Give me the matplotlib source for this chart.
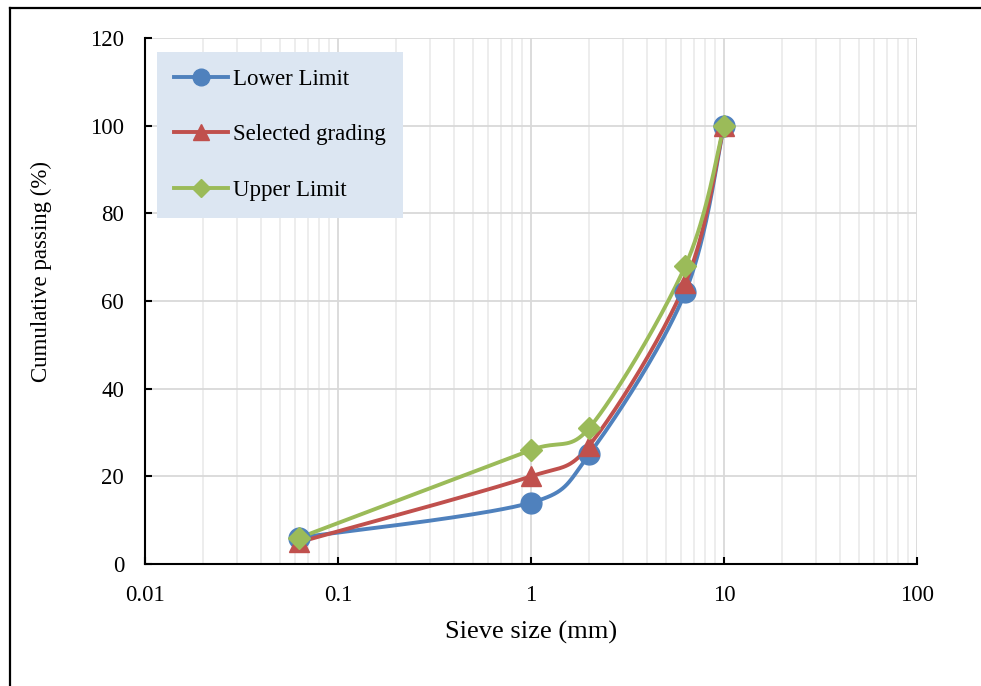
import numpy as np
import matplotlib
matplotlib.use("Agg")
from matplotlib import pyplot as plt
from matplotlib.lines import Line2D
from matplotlib.ticker import LogLocator, FixedLocator, NullFormatter, FuncFormatter

sieve = [0.063, 1, 2, 6.3, 10]
lower = [6, 14, 25, 62, 100]
selected = [5, 20, 27, 64, 100]
upper = [6, 26, 31, 68, 100]

labels = ['Lower Limit', 'Selected grading', 'Upper Limit']
colors = ['#4f81bd', '#c0504d', '#9bbb59']
markers = ['o', '^', 'D']

plt.rcParams['font.family'] = ['Liberation Serif', 'DejaVu Serif']
plt.rcParams['font.size'] = 16.5

fig = plt.figure(figsize=(9.81, 6.86), dpi=100)
ax = fig.add_axes([145/981, 1-564/686, (917-145)/981, (564-38)/686])

ax.set_xscale('log')
ax.set_xlim(0.01, 100)
ax.set_ylim(0, 120)


def smooth(ax, xs, ys, n=40):
    # smoothed line like the spreadsheet one: bezier through the points,
    # handles limited to half the segment length, worked out in pixels
    pts = ax.transData.transform(np.column_stack([xs, ys]))
    p = np.vstack([pts[0], pts, pts[-1]])
    out = []
    t = np.linspace(0, 1, n)[:, None]
    for i in range(1, len(p) - 2):
        p0, p1, p2, p3 = p[i-1], p[i], p[i+1], p[i+2]
        half = np.hypot(*(p2 - p1)) / 2
        v1 = (p2 - p0) / 6
        v2 = (p3 - p1) / 6
        if np.hypot(*v1) > half:
            v1 = v1 * half / np.hypot(*v1)
        if np.hypot(*v2) > half:
            v2 = v2 * half / np.hypot(*v2)
        c1 = p1 + v1
        c2 = p2 - v2
        seg = ((1-t)**3)*p1 + 3*((1-t)**2)*t*c1 + 3*(1-t)*(t**2)*c2 + (t**3)*p2
        out.append(seg)
    out = np.vstack(out)
    return ax.transData.inverted().transform(out)


for ys, lab, c, m in zip([lower, selected, upper], labels, colors, markers):
    curve = smooth(ax, sieve, ys)
    ax.plot(curve[:, 0], curve[:, 1], color=c, lw=2.8, zorder=3,
            solid_capstyle='round')
    ms = 11 if m == 'D' else 15
    ax.plot(sieve, ys, linestyle='none', marker=m, ms=ms, color=c, zorder=4)
    ax.plot([], [], color=c, lw=2.8, marker=m, ms=ms*0.8, label=lab)

ax.xaxis.set_major_locator(FixedLocator([0.01, 0.1, 1, 10, 100]))
ax.xaxis.set_minor_locator(LogLocator(base=10, subs=np.arange(2, 10)))
ax.xaxis.set_minor_formatter(NullFormatter())
ax.xaxis.set_major_formatter(FuncFormatter(lambda v, pos: ('%g' % v)))
ax.set_yticks([0, 20, 40, 60, 80, 100, 120])

ax.grid(which='major', color='#d9d9d9', lw=1.3, zorder=0)
ax.grid(which='minor', axis='x', color='#ececec', lw=1.3, zorder=0)
ax.set_axisbelow(True)

ax.spines['top'].set_color('none')
ax.spines['right'].set_color('none')
ax.spines['left'].set_linewidth(1.5)
ax.spines['bottom'].set_linewidth(1.5)
ax.tick_params(which='major', direction='in', length=5, width=1.5, pad=15)
ax.tick_params(axis='x', which='major', pad=15)
ax.tick_params(which='minor', length=0)

fig.text(41/981, 1-271/686, 'Cumulative passing (%)', rotation=90,
         ha='center', va='center', fontsize=16.5)
fig.text(531/981, 1-632/686, 'Sieve size (mm)', ha='center', va='center',
         fontsize=19)

leg = ax.legend(loc='upper left', bbox_to_anchor=(12/772, 1-13.5/526),
                frameon=True, fancybox=False, facecolor='#dce6f2',
                edgecolor='none', framealpha=1, labelspacing=1.5,
                handlelength=2.35, handletextpad=0.2, borderpad=0.75,
                borderaxespad=0, fontsize=16.5)

# outer frame
fig.add_artist(Line2D([10/981, 1], [1-8/686, 1-8/686], color='black', lw=1.6))
fig.add_artist(Line2D([10/981, 10/981], [0, 1-8/686], color='black', lw=1.6))

fig.savefig('out.png', dpi=100)
